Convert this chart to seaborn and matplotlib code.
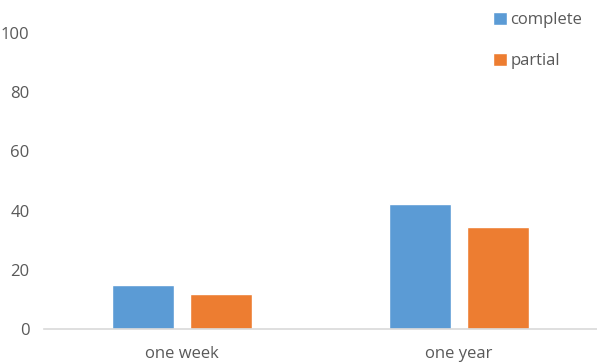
import matplotlib
matplotlib.use("Agg")
import matplotlib.pyplot as plt
import seaborn as sns
import pandas as pd

categories = ["one week", "one year"]
series = ["complete", "partial"]
complete = [15, 42.2]
partial = [11.8, 34.5]
yticks = [0, 20, 40, 60, 80, 100]

df = pd.DataFrame({
    "period": categories * 2,
    "type": [series[0]] * 2 + [series[1]] * 2,
    "value": complete + partial,
})

sns.set_theme(style="white")
plt.rcParams['font.family'] = ['Open Sans', 'DejaVu Sans']

fig = plt.figure(figsize=(5.97, 3.63), dpi=100)
ax = fig.add_axes([0.0737, 0.0937, 0.9263, 0.8153])
sns.barplot(data=df, x="period", y="value", hue="type", order=categories,
            hue_order=series, palette=["#5B9BD5", "#ED7D31"], width=0.564,
            gap=0.205, ax=ax, saturation=1, errorbar=None)
ax.set_xlim(-0.5, 1.5)
ax.set_ylim(0, 100)
ax.set_yticks(yticks)
ax.set_xlabel("")
ax.set_ylabel("")
for s in ["top", "right", "left"]:
    ax.spines[s].set_visible(False)
ax.spines["bottom"].set_color("#D9D9D9")
ax.spines["bottom"].set_linewidth(1.2)
ax.tick_params(axis="both", length=0, labelsize=12, labelcolor="#595959")
ax.tick_params(axis="y", pad=10.5)
ax.tick_params(axis="x", pad=12.5)
leg = ax.legend(loc="upper left", bbox_to_anchor=(0.8, 1.095), frameon=False,
                fontsize=12, labelspacing=1.5, handlelength=0.85, handleheight=0.85,
                handletextpad=0.2, borderaxespad=0)
for t in leg.get_texts():
    t.set_color("#595959")
fig.savefig("out.png", dpi=100)
